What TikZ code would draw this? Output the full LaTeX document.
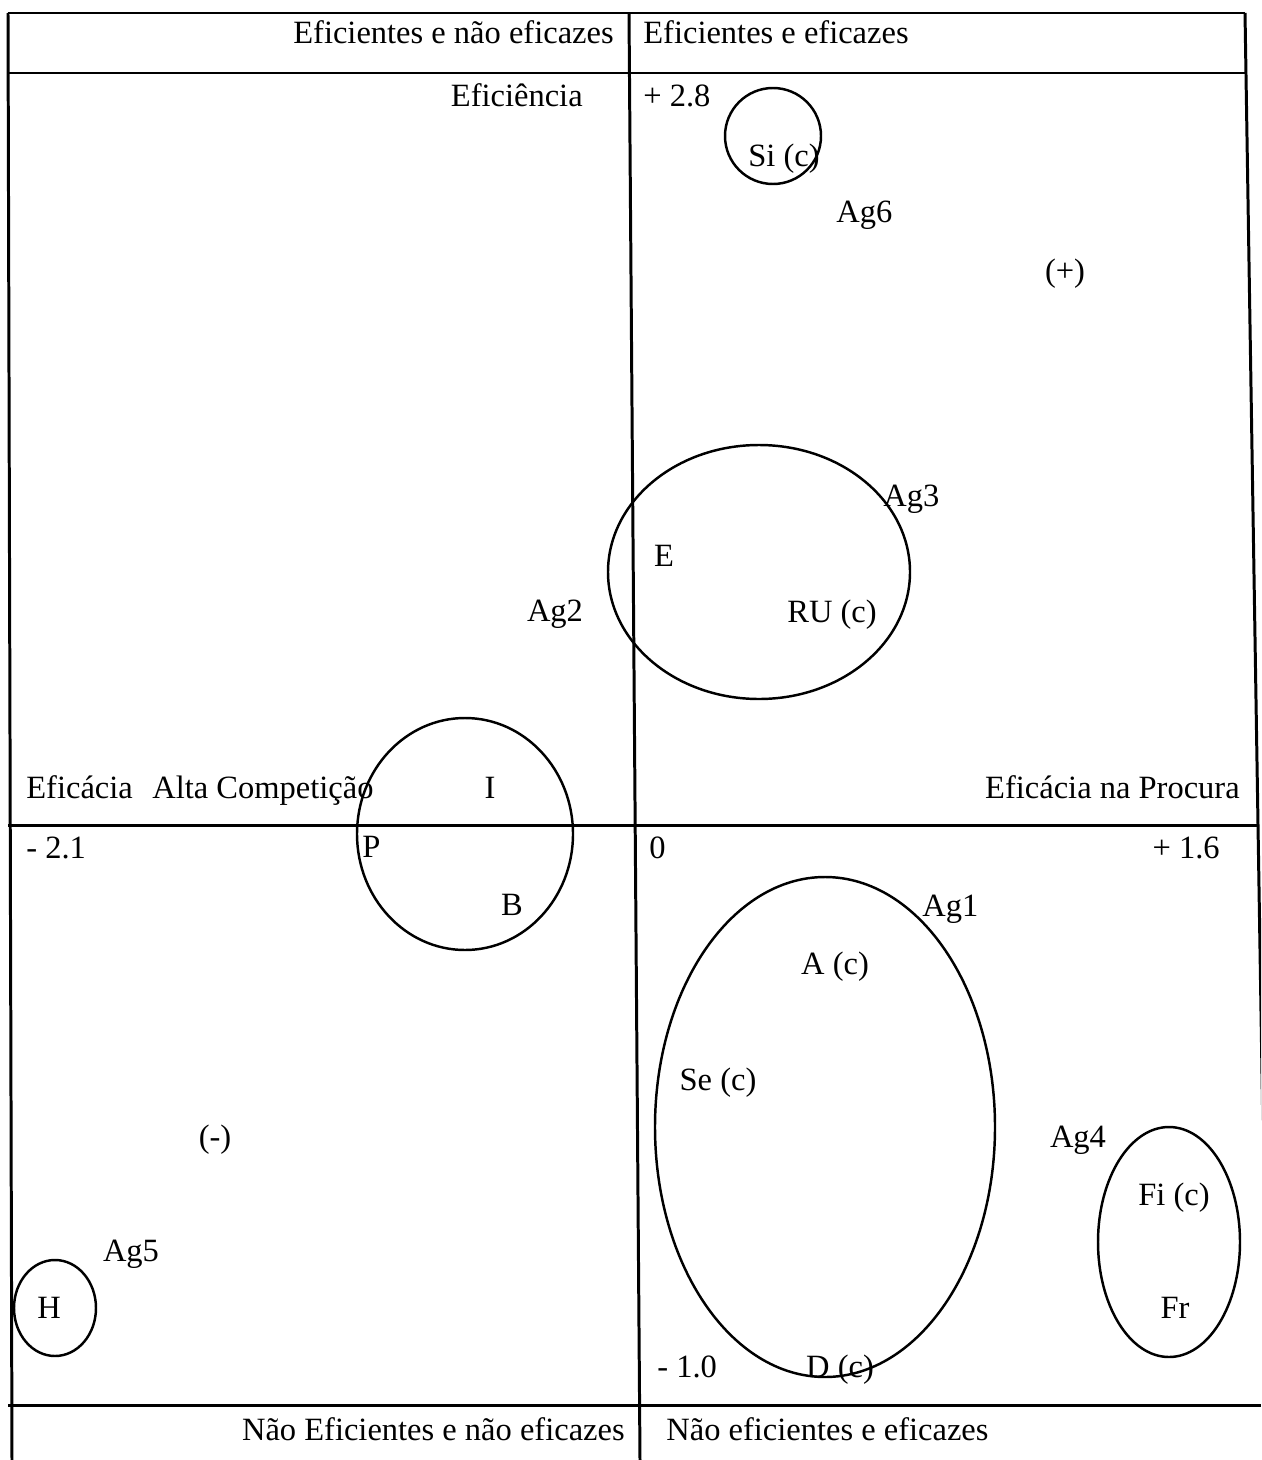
\documentclass[tikz,border=0pt]{standalone}
\usepackage{fontspec}
\setmainfont{Liberation Serif}
\begin{document}
\begin{tikzpicture}[x=0.02cm,y=-0.02cm,
  frame/.style={line width=1.7pt},
  ring/.style={line width=1.4pt},
  lbl/.style={inner sep=0pt,font=\fontsize{18.5}{22}\selectfont},
  lw/.style={lbl,anchor=base west},
  le/.style={lbl,anchor=base east},
  lc/.style={lbl,anchor=base}]
\useasboundingbox (0,0) rectangle (1261,1460);
\clip (0,0) rectangle (1261,1460);
% frame
\draw[frame] (8,13) -- (1245,13);
\draw[frame] (8,73) -- (1247,73);
\draw[frame] (8,825) -- (1258,825);
\draw[frame] (8,1405) -- (1261,1405);
\draw[frame] (8,13) -- (12,1460);
\draw[frame] (629,13) -- (640,1460);
\draw[frame] (1245,13) -- (1264,1200);
% header / footer
\node[le] (h1) at (614,44) {Eficientes e não eficazes};
\node[lw] (h2) at (643,44) {Eficientes e eficazes};
\node[le] (f1) at (625,1440) {Não Eficientes e não eficazes};
\node[lw] (f2) at (666,1440) {Não eficientes e eficazes};
% axes labels
\node[le] (yl) at (583,107) {Eficiência};
\node[lw] (ymax) at (643,107) {+ 2.8};
\node[lw] (xl) at (26,798) {Eficácia\hspace{0.6em}Alta Competição};
\node[le] (xr) at (1240,798) {Eficácia na Procura};
\node[lw] (xmin) at (26,858) {- 2.1};
\node[lw] (zero) at (649,858) {0};
\node[le] (xmax) at (1220,858) {+ 1.6};
\node[lw] (ymin) at (657,1377) {- 1.0};
\node[lc] (plus) at (1065,281) {(+)};
\node[lc] (minus) at (215,1147) {(-)};
% groups
\draw[ring] (773,136) circle (48);
\node[lw] (si) at (748,166) {Si (c)};
\node[lw] (ag6) at (836,222) {Ag6};
\draw[ring] (759,572) ellipse (151 and 127);
\node[lw] (ag3) at (883,506) {Ag3};
\node[lc] (e) at (664,566) {E};
\node[lw] (ru) at (787,622) {RU (c)};
\node[lc] (ag2) at (555,621) {Ag2};
\draw[ring] (465,834) ellipse (108 and 116);
\node[lc] (i) at (490,798) {I};
\node[lw] (p) at (362,857) {P};
\node[lc] (b) at (512,915) {B};
\draw[ring] (825,1127) ellipse (170 and 250);
\node[lw] (ag1) at (922,916) {Ag1};
\node[lc] (a) at (835,974) {A (c)};
\node[lc] (se) at (718,1090) {Se (c)};
\node[lc] (d) at (840,1377) {D (c)};
\node[lc] (ag4) at (1078,1147) {Ag4};
\draw[ring] (1169,1242) ellipse (71 and 115);
\node[lc] (fi) at (1174,1205) {Fi (c)};
\node[lc] (fr) at (1175,1318) {Fr};
\node[lc] (ag5) at (131,1261) {Ag5};
\draw[ring] (55,1308) ellipse (41 and 48);
\node[lc] (hh) at (49,1318) {H};
\end{tikzpicture}
\end{document}
